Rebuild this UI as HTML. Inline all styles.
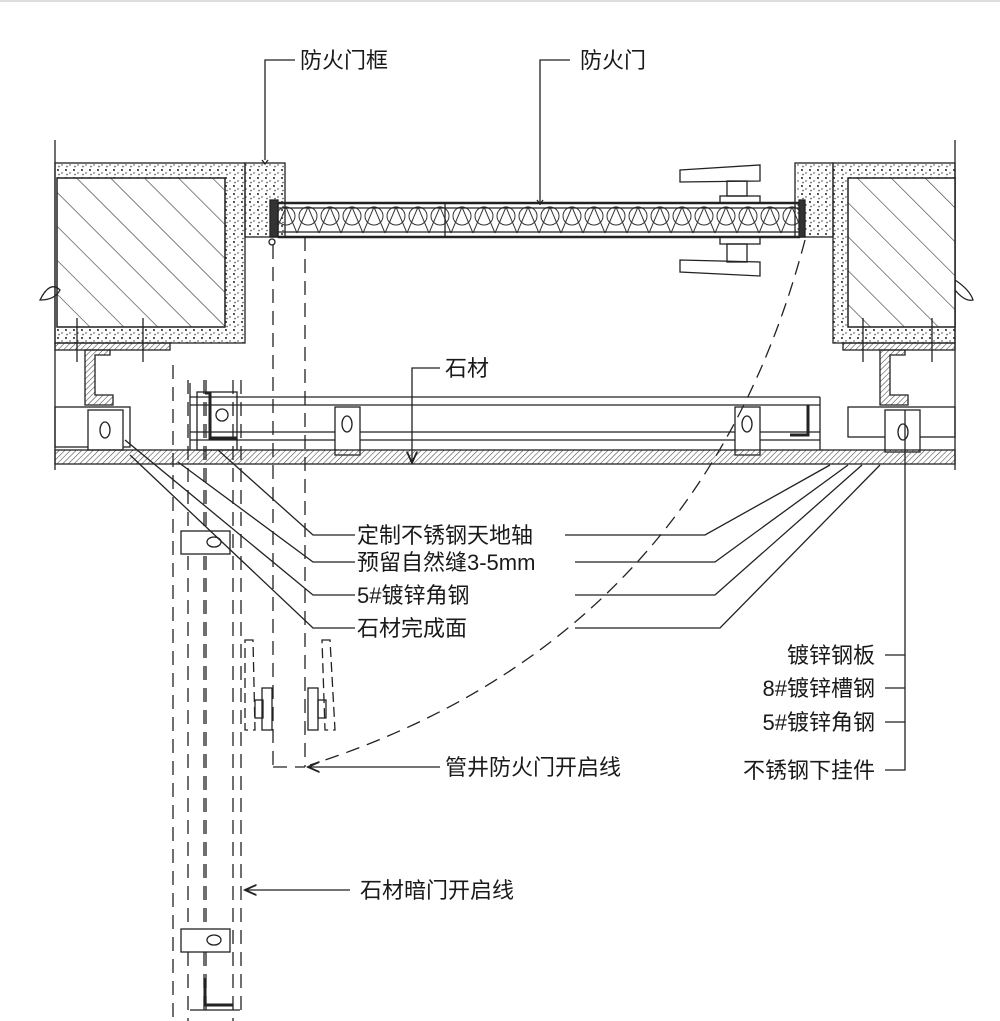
<!DOCTYPE html>
<html><head><meta charset="utf-8"><style>
html,body{margin:0;padding:0;background:#fff}
svg{display:block}
text{font-family:"Liberation Sans","Noto Sans CJK SC",sans-serif;font-size:22px;fill:#1a1a1a}
</style></head><body>
<svg width="1000" height="1021" viewBox="0 0 1000 1021" xmlns="http://www.w3.org/2000/svg">
<defs>
<pattern id="diag" width="24" height="24" patternUnits="userSpaceOnUse" patternTransform="rotate(-45)">
<line x1="0" y1="0" x2="0" y2="24" stroke="#333" stroke-width="1.2"/></pattern>
<pattern id="fine" width="4" height="4" patternUnits="userSpaceOnUse" patternTransform="rotate(45)">
<line x1="0" y1="0" x2="0" y2="4" stroke="#444" stroke-width="1.1"/></pattern>
<pattern id="dots" width="8" height="8" patternUnits="userSpaceOnUse">
<circle cx="2" cy="2" r="1" fill="#222"/><circle cx="6" cy="5" r="0.7" fill="#333"/><circle cx="3" cy="6.5" r="0.8" fill="#444"/></pattern>
<pattern id="ins" width="22" height="30" patternUnits="userSpaceOnUse" x="275" y="205">
<path d="M0 28 L11 2 L22 28" fill="none" stroke="#333" stroke-width="1"/><circle cx="11" cy="11" r="9" fill="none" stroke="#333"/></pattern>
<marker id="ar" markerWidth="10" markerHeight="10" refX="9" refY="5" orient="auto"><path d="M0 1 L9 5 L0 9" fill="none" stroke="#222" stroke-width="1.4"/></marker>
</defs>
<line x1="0" y1="1" x2="1000" y2="1" stroke="#bbb"/>
<g stroke="#222" fill="none" stroke-width="1.3">
<line x1="55" y1="140" x2="55" y2="470"/><line x1="955" y1="140" x2="955" y2="470"/>
<rect x="55" y="163" width="190" height="180" fill="url(#dots)"/>
<rect x="57" y="178" width="168" height="149" fill="#fff"/>
<rect x="57" y="178" width="168" height="149" fill="url(#diag)"/>
<rect x="245" y="163" width="40" height="74" fill="url(#dots)"/>
<rect x="270" y="200" width="8" height="37" fill="#333"/>
<circle cx="272" cy="242" r="3"/>
<rect x="278" y="203" width="522" height="34" fill="url(#ins)"/>
<line x1="278" y1="203" x2="800" y2="203" stroke-width="2.5"/>
<line x1="278" y1="208" x2="800" y2="208"/>
<line x1="278" y1="232" x2="800" y2="232"/>
<line x1="278" y1="237" x2="800" y2="237" stroke-width="2.5"/>
<line x1="445" y1="203" x2="445" y2="237"/>
<rect x="795" y="163" width="38" height="74" fill="url(#dots)"/>
<rect x="799" y="200" width="6" height="37" fill="#333"/>
<rect x="833" y="163" width="122" height="180" fill="url(#dots)"/>
<rect x="848" y="178" width="107" height="149" fill="#fff"/>
<rect x="848" y="178" width="107" height="149" fill="url(#diag)"/>
<path d="M40 300 q10 -20 20 -10 q-5 10 -20 10z"/><path d="M955 280 q15 10 18 20 q-8 2 -18 -10"/>
<path d="M680 170 L760 165 L760 181 L680 182z"/><path d="M680 260 L760 262 L760 276 L680 272z"/>
<rect x="727" y="181" width="20" height="15"/><rect x="720" y="196" width="40" height="7"/>
<rect x="727" y="244" width="20" height="18"/><rect x="720" y="237" width="40" height="7"/>
<rect x="55" y="343" width="115" height="7" fill="url(#fine)"/>
<rect x="843" y="343" width="112" height="7" fill="url(#fine)"/>
<line x1="77" y1="318" x2="77" y2="362"/><line x1="143" y1="318" x2="143" y2="362"/>
<line x1="863" y1="318" x2="863" y2="362"/><line x1="932" y1="318" x2="932" y2="362"/>
<path d="M85 350 L110 350 L110 355 L95 355 L95 395 L113 395 L113 405 L85 405z" fill="url(#fine)"/>
<path d="M880 350 L905 350 L905 355 L890 355 L890 395 L908 395 L908 405 L880 405z" fill="url(#fine)"/>
<rect x="55" y="407" width="75" height="40"/><rect x="88" y="410" width="35" height="40" fill="#fff"/>
<ellipse cx="105" cy="430" rx="5" ry="8"/>
<rect x="848" y="407" width="107" height="30"/><rect x="885" y="410" width="35" height="42" fill="#fff"/>
<ellipse cx="903" cy="432" rx="5" ry="8"/>
<line x1="190" y1="397" x2="820" y2="397"/><line x1="190" y1="405" x2="820" y2="405"/>
<line x1="190" y1="432" x2="820" y2="432"/><line x1="190" y1="440" x2="820" y2="440"/>
<line x1="820" y1="397" x2="820" y2="450"/><line x1="190" y1="383" x2="190" y2="450"/>
<rect x="197" y="392" width="40" height="58"/>
<path d="M205 393 L210 393 L210 438 L237 438" stroke-width="3"/>
<path d="M808 405 L808 435 L790 435" stroke-width="3"/>
<circle cx="222" cy="415" r="6"/>
<rect x="335" y="407" width="25" height="48" fill="#fff"/><ellipse cx="347" cy="424" rx="5" ry="8"/>
<rect x="735" y="407" width="25" height="48" fill="#fff"/><ellipse cx="747" cy="424" rx="5" ry="8"/>
<rect x="55" y="450" width="900" height="14" fill="url(#fine)"/>
<g stroke-dasharray="14 8">
<line x1="273" y1="245" x2="273" y2="767"/><line x1="305" y1="237" x2="305" y2="767"/>
<line x1="273" y1="767" x2="305" y2="767"/>
<line x1="173" y1="365" x2="173" y2="1021"/><line x1="188" y1="380" x2="188" y2="1021"/>
<line x1="204" y1="380" x2="204" y2="1015"/><line x1="206" y1="380" x2="206" y2="1015"/>
<line x1="233" y1="380" x2="233" y2="1021"/><line x1="241" y1="380" x2="241" y2="1015"/>
<path d="M805 240 Q700 640 310 765"/>
</g>
<path d="M245 640 L253 640 L255 730 L245 730z" stroke-dasharray="10 5"/>
<path d="M322 640 L330 640 L335 730 L325 730z" stroke-dasharray="10 5"/>
<rect x="262" y="688" width="10" height="42"/><rect x="255" y="700" width="8" height="18"/>
<rect x="308" y="688" width="10" height="42"/><rect x="318" y="700" width="8" height="18"/>
<rect x="181" y="531" width="49" height="23" fill="#fff"/><ellipse cx="214" cy="542" rx="7" ry="5"/>
<rect x="181" y="929" width="49" height="23" fill="#fff"/><ellipse cx="214" cy="940" rx="7" ry="5"/>
<path d="M205 978 L205 1005 L233 1005" stroke-width="3"/><path d="M190 1010 L240 1010"/>
<path d="M265 160 L265 60 L295 60"/><path d="M262 160 l3 4 l3 -4"/>
<path d="M540 205 L540 60 L570 60"/><path d="M537 200 l3 4 l3 -4"/>
<path d="M440 368 L412 368 L412 463" marker-end="url(#ar)"/>
<path d="M355 535 L313 535 L218 450"/>
<path d="M355 562 L313 562 L178 462"/>
<path d="M355 595 L313 595 L125 440"/>
<path d="M355 628 L313 628 L130 455"/>
<path d="M565 535 L705 535 L830 465"/>
<path d="M575 562 L715 562 L848 465"/>
<path d="M575 595 L715 595 L862 465"/>
<path d="M575 628 L720 628 L880 465"/>
<path d="M885 655 L905 655 M885 688 L905 688 M885 722 L905 722 M885 770 L905 770 L905 410"/>
<path d="M440 767 L308 767" marker-end="url(#ar)"/>
<path d="M350 890 L245 890" marker-end="url(#ar)"/>
</g>
<text x="300" y="68">防火门框</text>
<text x="580" y="68">防火门</text>
<text x="445" y="376">石材</text>
<text x="357" y="543">定制不锈钢天地轴</text>
<text x="357" y="570">预留自然缝3-5mm</text>
<text x="357" y="603">5#镀锌角钢</text>
<text x="357" y="636">石材完成面</text>
<text x="875" y="663" text-anchor="end">镀锌钢板</text>
<text x="875" y="696" text-anchor="end">8#镀锌槽钢</text>
<text x="875" y="730" text-anchor="end">5#镀锌角钢</text>
<text x="875" y="778" text-anchor="end">不锈钢下挂件</text>
<text x="445" y="775">管井防火门开启线</text>
<text x="360" y="898">石材暗门开启线</text>
</svg>
</body></html>
